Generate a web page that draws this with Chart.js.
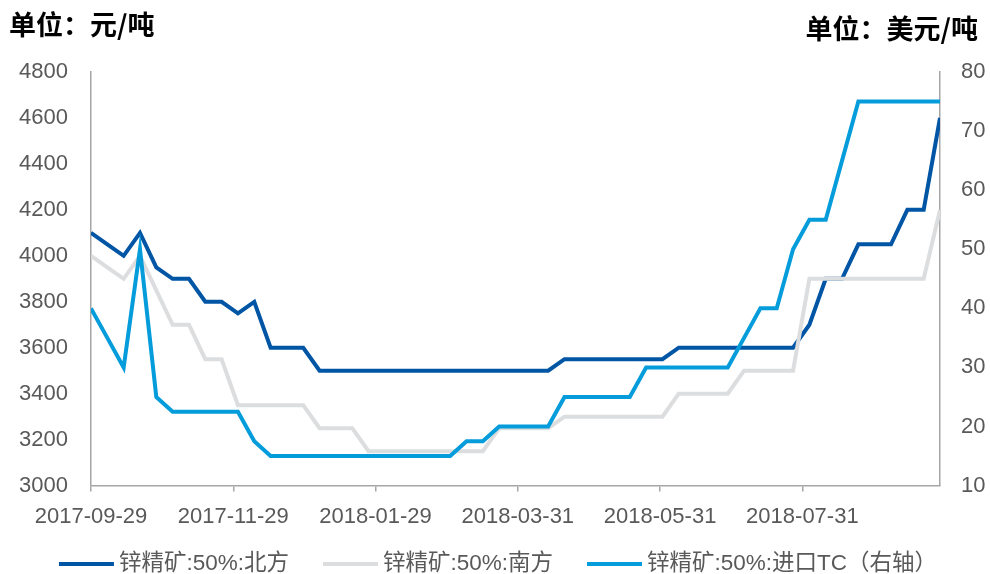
<!DOCTYPE html>
<html>
<head>
<meta charset="utf-8">
<script src="https://cdn.jsdelivr.net/npm/chart.js@4"></script>
<style>
  html, body { margin: 0; padding: 0; background: #fff; }
  #wrap { width: 990px; height: 574px; }
</style>
</head>
<body>
<div id="wrap"><canvas id="zincChart"></canvas></div>
<script>
  // Weekly data from 2017-09-29 (x is day offset from startDate)
  const startDate = "2017-09-29";
  const tickLabels = ["2017-09-29", "2017-11-29", "2018-01-29", "2018-03-31", "2018-05-31", "2018-07-31"];
  const seriesNames = ["锌精矿:50%:北方", "锌精矿:50%:南方", "锌精矿:50%:进口TC（右轴）"];

  const north = [4100, 4050, 4000, 4100, 3950, 3900, 3900, 3800, 3800, 3750, 3800, 3600, 3600, 3600,
    3500, 3500, 3500, 3500, 3500, 3500, 3500, 3500, 3500, 3500, 3500, 3500, 3500, 3500, 3500,
    3550, 3550, 3550, 3550, 3550, 3550, 3550,
    3600, 3600, 3600, 3600, 3600, 3600, 3600, 3600,
    3700, 3900, 3900, 4050, 4050, 4050, 4200, 4200, 4600];
  const south = [4000, 3950, 3900, 4000, 3850, 3700, 3700, 3550, 3550, 3350, 3350, 3350, 3350, 3350,
    3250, 3250, 3250,
    3150, 3150, 3150, 3150, 3150, 3150, 3150, 3150,
    3250, 3250, 3250, 3250,
    3300, 3300, 3300, 3300, 3300, 3300, 3300,
    3400, 3400, 3400, 3400,
    3500, 3500, 3500, 3500,
    3900, 3900, 3900, 3900, 3900, 3900, 3900, 3900,
    4200];
  const importTC = [40, 35, 30, 50, 25, 22.5, 22.5, 22.5, 22.5, 22.5, 17.5,
    15, 15, 15, 15, 15, 15, 15, 15, 15, 15, 15, 15,
    17.5, 17.5,
    20, 20, 20, 20,
    25, 25, 25, 25, 25,
    30, 30, 30, 30, 30, 30,
    35, 40, 40, 50, 55, 55, 65,
    75, 75, 75, 75, 75, 75];

  const colors = ["#0055A5", "#DCDDDF", "#049CDB"];
  const tickColor = "#595959";
  const axisColor = "#A6A6A6";
  const numFont = { family: '"Liberation Sans", Arial, sans-serif', size: 22 };
  const cjkFont = '"Liberation Sans", "Noto Sans CJK SC", sans-serif';

  const dayMs = 24 * 3600 * 1000;
  const toDays = (s) => Math.round((Date.parse(s) - Date.parse(startDate)) / dayMs);
  const tickDays = tickLabels.map(toDays);
  const toPoints = (arr) => arr.map((v, i) => ({ x: i * 7, y: v }));

  // unit titles + legend drawn on the canvas
  const decorPlugin = {
    id: "decor",
    afterDraw(chart) {
      const ctx = chart.ctx;
      ctx.save();
      ctx.fillStyle = "#000";
      ctx.font = 'bold 27px "Noto Sans CJK SC", sans-serif';
      ctx.textBaseline = "middle";
      ctx.textAlign = "left";
      ctx.fillText("单位：元/吨", 9, 25);
      ctx.textAlign = "right";
      ctx.fillText("单位：美元/吨", 978, 29);

      // legend
      ctx.font = "22.5px " + cjkFont;
      ctx.textAlign = "left";
      const lineW = 55, gap = 5, spacing = 34;
      const widths = seriesNames.map(n => lineW + gap + ctx.measureText(n).width);
      const total = widths.reduce((a, b) => a + b, 0) + spacing * (widths.length - 1);
      let x = 498 - total / 2;
      const y = 564;
      chart.data.datasets.forEach((ds, i) => {
        ctx.fillStyle = ds.borderColor;
        ctx.fillRect(x, y - 2, lineW, 4);
        ctx.fillStyle = tickColor;
        ctx.fillText(ds.label, x + lineW + gap, y);
        x += widths[i] + spacing;
      });
      ctx.restore();
    }
  };

  const datasets = [
    { label: seriesNames[0], data: toPoints(north), borderColor: colors[0], yAxisID: "y", order: 2 },
    { label: seriesNames[1], data: toPoints(south), borderColor: colors[1], yAxisID: "y", order: 1 },
    { label: seriesNames[2], data: toPoints(importTC), borderColor: colors[2], yAxisID: "y1", order: 0 }
  ].map(d => Object.assign(d, {
    borderWidth: 4,
    pointRadius: 0,
    tension: 0,
    fill: false,
    borderJoinStyle: "miter"
  }));

  new Chart(document.getElementById("zincChart"), {
    type: "line",
    data: { datasets: datasets },
    options: {
      responsive: true,
      maintainAspectRatio: false,
      animation: false,
      layout: { padding: { top: 72, left: 0, right: 0, bottom: 32 } },
      plugins: {
        legend: { display: false },
        tooltip: { enabled: false }
      },
      scales: {
        x: {
          type: "linear",
          min: 0,
          max: 364,
          afterBuildTicks: (axis) => { axis.ticks = tickDays.map(v => ({ value: v })); },
          ticks: {
            autoSkip: false,
            maxRotation: 0,
            padding: 12,
            color: tickColor,
            font: numFont,
            callback: (v) => tickLabels[tickDays.indexOf(v)] || ""
          },
          grid: { drawOnChartArea: false, drawTicks: true, tickLength: 6, color: axisColor, lineWidth: 1.5 },
          border: { color: axisColor, width: 1.5 }
        },
        y: {
          position: "left",
          min: 3000,
          max: 4800,
          afterFit: (s) => { s.width = 91; },
          ticks: { stepSize: 200, padding: 23, color: tickColor, font: numFont, callback: (v) => String(v) },
          grid: { display: false, drawTicks: false },
          border: { color: axisColor, width: 1.5 }
        },
        y1: {
          position: "right",
          min: 10,
          max: 80,
          afterFit: (s) => { s.width = 50; },
          ticks: { stepSize: 10, padding: 21, color: tickColor, font: numFont, callback: (v) => String(v) },
          grid: { display: false, drawTicks: false },
          border: { color: axisColor, width: 1.5 }
        }
      }
    },
    plugins: [decorPlugin]
  });
</script>
</body>
</html>
